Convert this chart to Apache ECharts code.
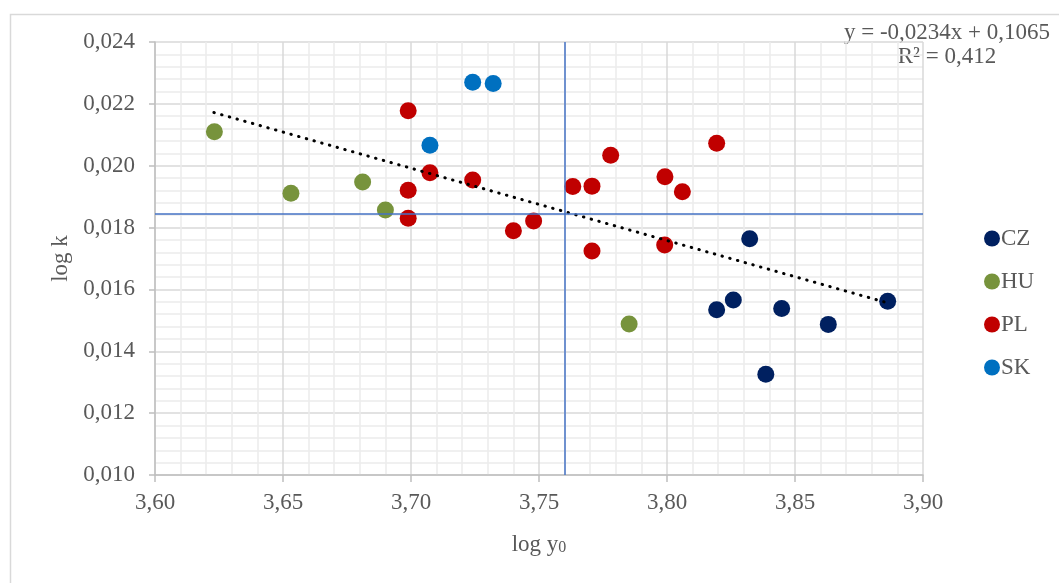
<!DOCTYPE html>
<html><head><meta charset="utf-8">
<script src="https://cdn.jsdelivr.net/npm/echarts@6/dist/echarts.min.js"></script>
<style>html,body{margin:0;padding:0;background:#fff}#c{width:1059px;height:583px}</style>
</head><body><div id="c"></div>
<script>
// ---- data ----
const seriesNames = ['CZ', 'HU', 'PL', 'SK'];
const seriesColors = ['#002060', '#77933C', '#C00000', '#0070C0'];
const czData = [[3.8323,0.01764],[3.8259,0.01566],[3.8194,0.01534],[3.8448,0.01538],[3.8630,0.01487],[3.8386,0.01326],[3.8862,0.01562]];
const huData = [[3.6232,0.02110],[3.6531,0.01911],[3.6811,0.01947],[3.6900,0.01857],[3.7852,0.01488]];
const plData = [[3.6989,0.02178],[3.7074,0.01977],[3.6989,0.01921],[3.6989,0.01830],[3.7241,0.01954],[3.7400,0.01790],[3.7479,0.01821],[3.7632,0.01933],[3.7707,0.01934],[3.7780,0.02034],[3.7992,0.01964],[3.8060,0.01916],[3.8194,0.02073],[3.7991,0.01744],[3.7707,0.01724]];
const skData = [[3.7074,0.02066],[3.7241,0.02270],[3.7321,0.02266]];
const trendX = [3.623, 3.886];
const trendY = [0.02172, 0.01557];
const meanX = 3.76;
const meanY = 0.01845;
const equationText = 'y = -0,0234x + 0,1065';
const r2Text = 'R² = 0,412';
const xName = 'log y';
const xNameSub = '0';
const yName = 'log k';

const FONT = 'Liberation Serif';
const TXT = '#595959';
const allData = [czData, huData, plData, skData];

const chart = echarts.init(document.getElementById('c'), null, {renderer: 'canvas'});
const series = seriesNames.map((n, i) => ({
  name: n, type: 'scatter', data: allData[i], symbol: 'circle', symbolSize: 17,
  itemStyle: {color: seriesColors[i], opacity: 1}, z: 3
}));
series.unshift({
  name: 'means', type: 'line', data: [], silent: true, z: 2,
  markLine: {
    silent: true, symbol: 'none', label: {show: false}, precision: 6,
    lineStyle: {color: '#4472C4', width: 1.5, type: 'solid'},
    data: [{xAxis: meanX}, {yAxis: meanY}]
  }
});
series.push({
  name: 'trend', type: 'line', data: trendX.map((x, i) => [x, trendY[i]]),
  showSymbol: false, symbol: 'none', silent: true, z: 4,
  lineStyle: {color: '#000', width: 3, type: [0.5, 7.5], cap: 'round'}
});

chart.setOption({
  animation: false,
  backgroundColor: '#fff',
  grid: {left: 155, right: 136, top: 42, bottom: 108, containLabel: false},
  xAxis: {
    type: 'value', min: 3.60, max: 3.90, interval: 0.05,
    name: '{a|' + xName + '}{s|' + xNameSub + '}', nameLocation: 'middle', nameGap: 55,
    nameTextStyle: {rich: {
      a: {fontFamily: FONT, fontSize: 23, color: TXT, verticalAlign: 'bottom', lineHeight: 26},
      s: {fontFamily: FONT, fontSize: 16, color: TXT, verticalAlign: 'bottom', lineHeight: 6}
    }},
    axisLine: {show: true, onZero: false, lineStyle: {color: '#bfbfbf', width: 1.5}},
    axisTick: {show: true, length: 7, lineStyle: {color: '#bfbfbf', width: 1.5}},
    axisLabel: {fontFamily: FONT, fontSize: 23, color: TXT, margin: 16,
      formatter: v => v.toFixed(2).replace('.', ',')},
    splitLine: {show: true, lineStyle: {color: '#d9d9d9', width: 1.5}},
    minorTick: {show: false, splitNumber: 5},
    minorSplitLine: {show: true, lineStyle: {color: '#ececec', width: 1.5}}
  },
  yAxis: {
    type: 'value', min: 0.010, max: 0.024, interval: 0.002,
    name: yName, nameLocation: 'middle', nameGap: 80, nameRotate: 90,
    nameTextStyle: {fontFamily: FONT, fontSize: 23, color: TXT},
    axisLine: {show: true, onZero: false, lineStyle: {color: '#bfbfbf', width: 1.5}},
    axisTick: {show: true, length: 6, lineStyle: {color: '#bfbfbf', width: 1.5}},
    axisLabel: {fontFamily: FONT, fontSize: 23, color: TXT, margin: 20,
      formatter: v => v.toFixed(3).replace('.', ',')},
    splitLine: {show: true, lineStyle: {color: '#d9d9d9', width: 1.5}},
    minorTick: {show: false, splitNumber: 5},
    minorSplitLine: {show: true, lineStyle: {color: '#ececec', width: 1.5}}
  },
  legend: {
    data: seriesNames, orient: 'vertical', left: 979, top: 222,
    icon: 'circle', itemWidth: 16, itemHeight: 16, itemGap: 20,
    textStyle: {fontFamily: FONT, fontSize: 23, color: TXT, padding: [0, 0, 0, -4]}
  },
  graphic: [
    {type: 'rect', left: 8, top: 12, shape: {width: 1100, height: 700}, silent: true,
      style: {fill: 'none', stroke: '#d9d9d9', lineWidth: 1.5}, z: -10},
    {type: 'text', x: 947, y: 33, silent: true,
      style: {text: equationText, fontFamily: FONT, fontSize: 23, fill: TXT, textAlign: 'center', textVerticalAlign: 'middle'}},
    {type: 'text', x: 947, y: 57, silent: true,
      style: {text: r2Text, fontFamily: FONT, fontSize: 23, fill: TXT, textAlign: 'center', textVerticalAlign: 'middle'}}
  ],
  series: series
});
</script>
</body></html>
